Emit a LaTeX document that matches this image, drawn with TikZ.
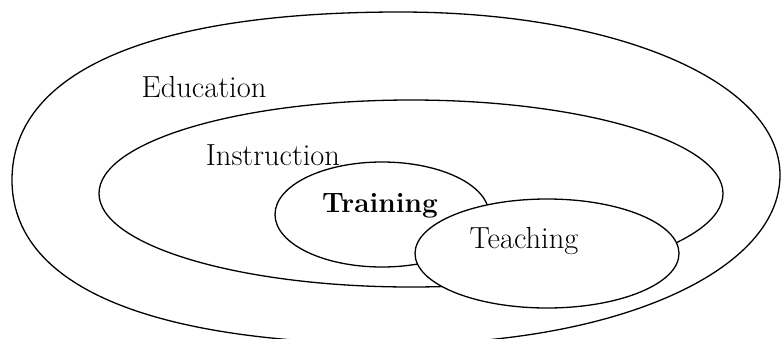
\documentclass[tikz,border=0pt]{standalone}
\usetikzlibrary{shapes.geometric}
\begin{document}
\begin{tikzpicture}[x=1pt,y=-1pt,
  outline/.style={draw,line width=1.3pt},
  ring/.style={ellipse,outline,inner sep=0pt},
  label/.style={inner sep=0pt,font=\fontsize{30.5}{33}\selectfont}]
\useasboundingbox (0,0) rectangle (781,338);
% outermost field: a loop that is fuller on its left end than on its right
\coordinate (eduleft) at (12,180);
\coordinate (edutop) at (400,12);
\coordinate (eduright) at (780,175);
\coordinate (edubottom) at (400,344);
\draw[outline] (eduleft)
  .. controls (12,76) and (140,12) .. (edutop)
  .. controls (617,12) and (780,82) .. (eduright)
  .. controls (780,271) and (617,344) .. (edubottom)
  .. controls (140,344) and (12,282) .. (eduleft) -- cycle;
% nested fields
\node[ring,minimum width=624pt,minimum height=187pt] (instruction) at (411,193.5) {};
\node[ring,minimum width=214pt,minimum height=105pt] (training) at (382,214.5) {};
\node[ring,fill=white,minimum width=264pt,minimum height=109pt] (teaching) at (547,253.5) {};
% labels
\node[label] (educationtext) at (204,87) {Education};
\node[label] (instructiontext) at (273,155) {Instruction};
\node[label,font=\fontsize{28}{31}\selectfont\bfseries] (trainingtext) at (380,206) {Training};
\node[label] (teachingtext) at (524,241) {Teaching};
\end{tikzpicture}
\end{document}
